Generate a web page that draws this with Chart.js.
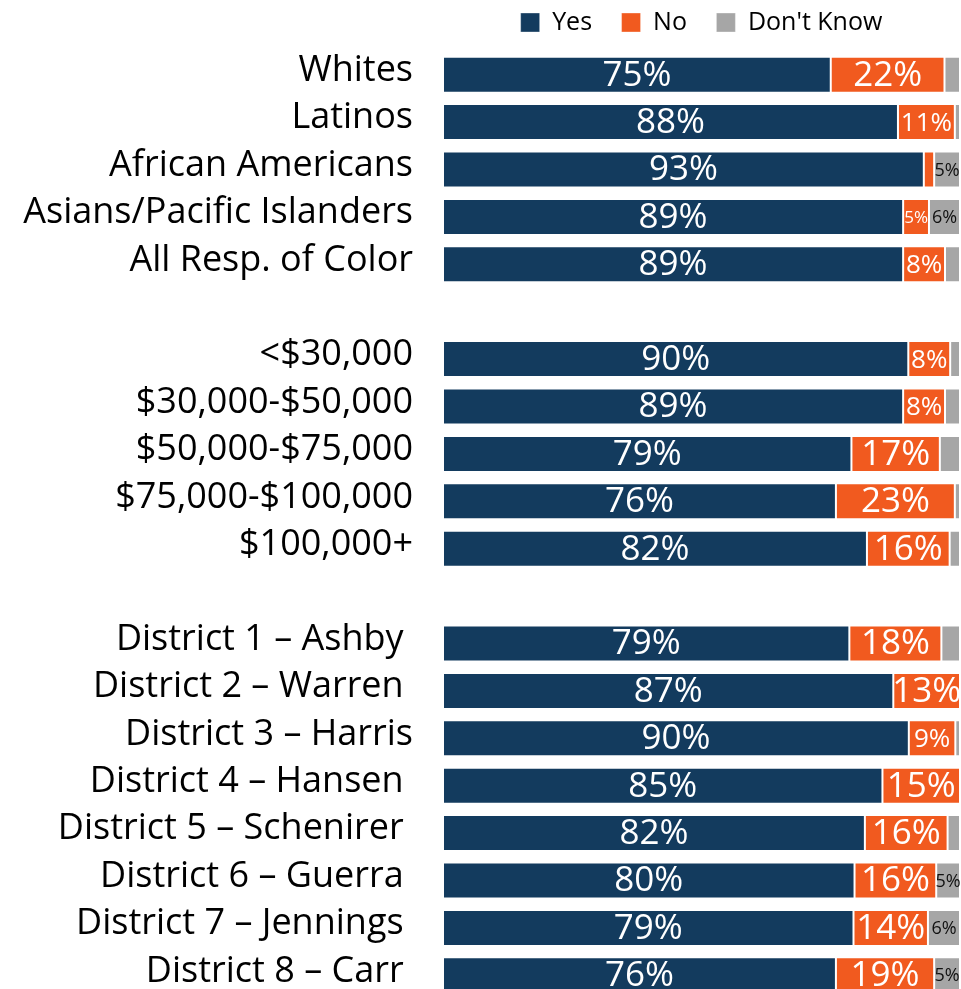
<!DOCTYPE html>
<html>
<head>
<meta charset="utf-8">
<script src="https://cdn.jsdelivr.net/npm/chart.js@4/dist/chart.umd.min.js"></script>
<style>
  html, body { margin: 0; padding: 0; background: #fff; overflow: hidden; }
  canvas { display: block; }
</style>
</head>
<body>
<canvas id="survey" width="961" height="999"></canvas>
<script>
// groups: ethnicity, income, council district ('' rows are spacers)
const categories = [
  "Whites", "Latinos", "African Americans", "Asians/Pacific Islanders", "All Resp. of Color",
  "",
  "<$30,000", "$30,000-$50,000", "$50,000-$75,000", "$75,000-$100,000", "$100,000+",
  "",
  "District 1 – Ashby ", "District 2 – Warren ", "District 3 – Harris", "District 4 – Hansen ",
  "District 5 – Schenirer ", "District 6 – Guerra ", "District 7 – Jennings ", "District 8 – Carr "
];

const yesValues = [75, 88, 93, 89, 89, null, 90, 89, 79, 76, 82, null, 78.6, 87.1, 90.1, 85, 81.6, 79.6, 79.4, 76];
const noValues = [22, 11, 2, 5, 8.1, null, 8.1, 8.1, 17.1, 23, 16, null, 17.8, 12.9, 9, 15, 16, 15.8, 14.4, 19];
const dkValues = [3, 1, 5, 6, 2.9, null, 1.9, 2.9, 3.9, 1, 2, null, 3.6, 0, 0.9, 0, 2.4, 4.6, 6.2, 5];

const FONT = "'Open Sans'";

const barLabels = {
  id: "barLabels",
  // leave a gap under the legend
  beforeLayout(chart) {
    const lg = chart.legend;
    if (lg && !lg._gapPatched) {
      const fit = lg.fit;
      lg.fit = function () { fit.call(this); this.height += 6; };
      lg._gapPatched = true;
    }
  },
  afterDatasetsDraw(chart) {
    const ctx = chart.ctx;
    ctx.save();
    ctx.textAlign = "center";
    ctx.textBaseline = "middle";
    chart.data.datasets.forEach((ds, i) => {
      chart.getDatasetMeta(i).data.forEach((bar, j) => {
        const v = ds.data[j];
        if (v == null) return;
        const pct = Math.round(v);
        if (pct < 5) return;
        let size = 35;
        if (i == 1 && pct < 13) size = pct < 7 ? 17 : 26;
        if (i == 2) size = 18;
        ctx.font = size + "px " + FONT;
        ctx.fillStyle = i == 2 ? "#111" : "#fff";
        ctx.fillText(pct + "%", (bar.x + bar.base) / 2, bar.y + 1);
      });
    });
    ctx.restore();
  }
};

new Chart(document.getElementById("survey"), {
  type: "bar",
  data: {
    labels: categories,
    datasets: [
      { label: "Yes", data: yesValues, backgroundColor: "#133b5e" },
      { label: "No", data: noValues, backgroundColor: "#f15a1f" },
      { label: "Don't Know", data: dkValues, backgroundColor: "#a6a6a6" }
    ]
  },
  options: {
    indexAxis: "y",
    responsive: false,
    animation: false,
    layout: { padding: { top: 0, right: 1, bottom: 0, left: 0 } },
    datasets: {
      bar: {
        barPercentage: 0.76,
        categoryPercentage: 1,
        borderWidth: 1,
        borderColor: "rgba(255,255,255,0.35)",
        borderSkipped: false
      }
    },
    scales: {
      x: { stacked: true, min: 0, max: 100, display: false },
      y: {
        stacked: true,
        grid: { display: false, drawTicks: false },
        border: { display: false },
        afterFit: (s) => { s.width = 443; s.paddingTop = 0; s.paddingBottom = 0; },
        ticks: {
          padding: 30, labelOffset: -4, color: "#000", autoSkip: false,
          font: { family: FONT, size: 36 }
        }
      }
    },
    plugins: {
      legend: {
        position: "top",
        fullSize: false,
        labels: {
          boxWidth: 19, boxHeight: 19, padding: 10,
          color: "#000", font: { family: FONT, size: 25 },
          generateLabels(chart) {
            const items = Chart.defaults.plugins.legend.labels.generateLabels(chart);
            items.forEach((it, k) => { if (k < items.length - 1) it.text += "   "; });
            return items;
          }
        }
      },
      tooltip: { enabled: false }
    }
  },
  plugins: [barLabels]
});
</script>
</body>
</html>
